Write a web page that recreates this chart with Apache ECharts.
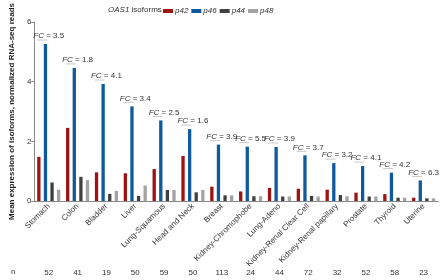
<!DOCTYPE html>
<html>
<head>
<meta charset="utf-8">
<script src="https://cdn.jsdelivr.net/npm/echarts@6/dist/echarts.min.js"></script>
<style>
  html, body { margin: 0; padding: 0; background: #fff; }
  #chart { width: 440px; height: 280px; }
</style>
</head>
<body>
<div id="chart"></div>
<script>
var tissues = ['Stomach', 'Colon', 'Bladder', 'Liver', 'Lung-Squamous', 'Head and Neck', 'Breast',
    'Kidney-Chromophobe', 'Lung-Adeno', 'Kidney-Renal Clear Cell', 'Kidney-Renal papillary',
    'Prostate', 'Thyroid', 'Uterine'];
var nSamples = ['52', '41', '19', '50', '59', '50', '113', '24', '44', '72', '32', '52', '58', '23'];
var p42 = [1.48, 2.45, 0.96, 0.93, 1.07, 1.51, 0.48, 0.32, 0.44, 0.41, 0.38, 0.28, 0.23, 0.11];
var p46 = [5.26, 4.46, 3.92, 3.17, 2.70, 2.41, 1.89, 1.82, 1.81, 1.53, 1.27, 1.17, 0.95, 0.69];
var p44 = [0.62, 0.81, 0.24, 0.17, 0.37, 0.29, 0.19, 0.16, 0.15, 0.17, 0.20, 0.15, 0.11, 0.09];
var p48 = [0.38, 0.70, 0.34, 0.52, 0.37, 0.37, 0.19, 0.16, 0.15, 0.15, 0.16, 0.15, 0.11, 0.09];
var foldChange = ['3.5', '1.8', '4.1', '3.4', '2.5', '1.6', '3.9', '5.5', '3.9', '3.7', '3.2', '4.1', '4.2', '6.3'];
var yTicks = [0, 2, 4, 6];

var FONT = 'Liberation Sans, Arial, sans-serif';
var BAR_W = 3.3;
var colors = { p42: '#9e1212', p46: '#0f5a9e', p44: '#404040', p48: '#a3a3a3' };

function barSeries(name, data) {
    return {
        name: name,
        type: 'bar',
        data: data,
        barWidth: BAR_W,
        barGap: '100%',
        itemStyle: { color: colors[name] }
    };
}

// FC annotation: bracket line over p42..p46 and label above
var fcData = p46.map(function (v, i) { return [i, v, foldChange[i]]; });

var chart = echarts.init(document.getElementById('chart'));
chart.setOption({
    animation: false,
    textStyle: { fontFamily: FONT },
    title: {
        text: '{i|OAS1} isoforms',
        left: 103,
        top: 1,
        textStyle: {
            fontSize: 8,
            fontWeight: 'normal',
            color: '#333',
            fontFamily: FONT,
            rich: { i: { fontStyle: 'italic', fontSize: 8, color: '#333', fontFamily: FONT } }
        }
    },
    legend: {
        left: 158,
        top: 2,
        itemWidth: 10,
        itemHeight: 4,
        itemGap: 3,
        icon: 'rect',
        textStyle: { fontSize: 8, fontStyle: 'italic', color: '#333', fontFamily: FONT, padding: [0, 0, 0, -3] },
        data: ['p42', 'p46', 'p44', 'p48']
    },
    grid: { left: 23, right: 2, top: 8, bottom: 79 },
    xAxis: [{
        type: 'category',
        data: tissues,
        axisLine: { lineStyle: { color: '#888' } },
        axisTick: { alignWithLabel: true, length: 3, lineStyle: { color: '#888' } },
        axisLabel: { rotate: 45, fontSize: 8, color: '#333', margin: 4, interval: 0 }
    }, {
        type: 'category',
        data: nSamples,
        position: 'bottom',
        offset: 60,
        axisLine: { show: false },
        axisTick: { show: false },
        axisLabel: { fontSize: 8, color: '#333', interval: 0 },
        name: 'n',
        nameLocation: 'start',
        nameGap: 19,
        nameTextStyle: { fontSize: 8, color: '#333', verticalAlign: 'top', padding: [7, 0, 0, 0] }
    }],
    yAxis: {
        type: 'value',
        min: 0,
        max: 6,
        interval: 2,
        name: 'Mean expression of isoforms, normalized RNA-seq reads',
        nameLocation: 'middle',
        nameGap: 12,
        nameTextStyle: { fontSize: 8, fontWeight: 'bold', color: '#222' },
        axisLine: { show: true, lineStyle: { color: '#888' } },
        axisTick: { show: true, length: 3, lineStyle: { color: '#888' } },
        axisLabel: {
            fontSize: 8, color: '#333', margin: 3,
            formatter: function (v) { return yTicks.indexOf(v) >= 0 ? String(v) : ''; }
        },
        splitLine: { show: false }
    },
    series: [
        barSeries('p42', p42),
        barSeries('p46', p46),
        barSeries('p44', p44),
        barSeries('p48', p48),
        {
            type: 'custom',
            name: 'FC',
            data: fcData,
            z: 5,
            renderItem: function (params, api) {
                var p = api.coord([api.value(0), api.value(1)]);
                var cx = p[0], top = p[1];
                return {
                    type: 'group',
                    children: [{
                        type: 'line',
                        shape: { x1: cx - 11.5, y1: top - 4, x2: cx - 1.6, y2: top - 4 },
                        style: { stroke: '#c8c8c8', lineWidth: 1 }
                    }, {
                        type: 'text',
                        x: cx,
                        y: top - 8,
                        style: {
                            text: '{i|FC} = ' + fcData[params.dataIndex][2],
                            align: 'center',
                            verticalAlign: 'middle',
                            fontSize: 8,
                            fill: '#333',
                            fontFamily: FONT,
                            rich: { i: { fontStyle: 'italic', fontSize: 8, fill: '#333', fontFamily: FONT } }
                        }
                    }]
                };
            }
        }
    ]
});
</script>
</body>
</html>
